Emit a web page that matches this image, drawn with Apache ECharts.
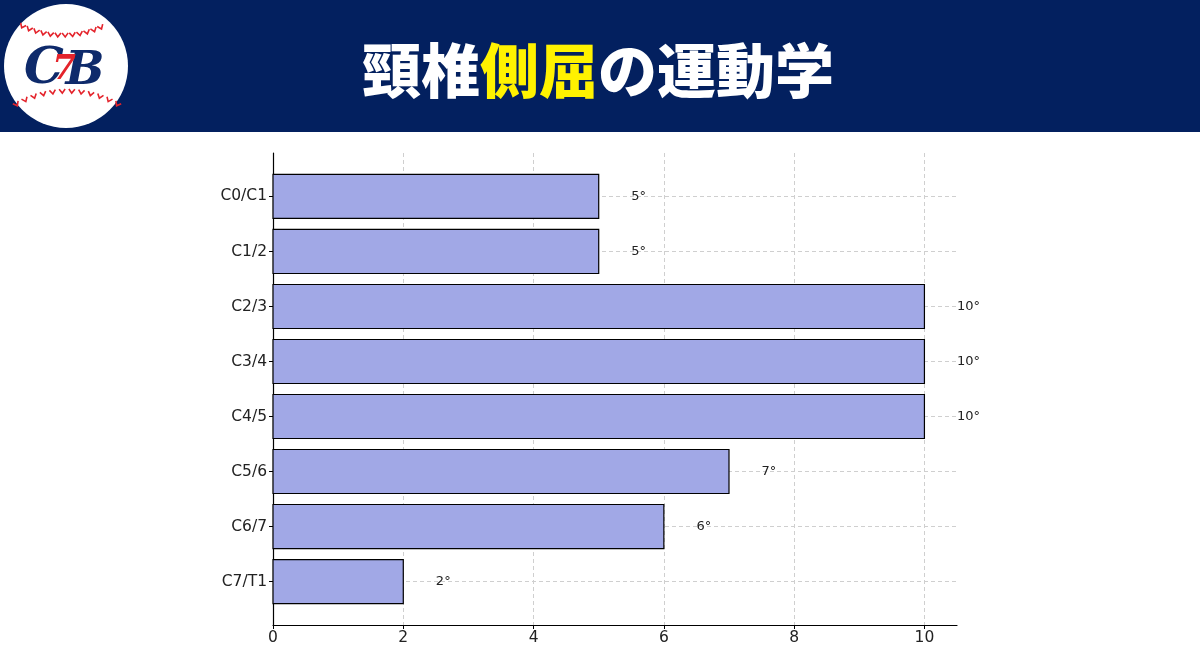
<!DOCTYPE html>
<html>
<head>
<meta charset="utf-8">
<script src="https://cdn.jsdelivr.net/npm/echarts@6/dist/echarts.min.js"></script>
<style>
html,body{margin:0;padding:0;background:#fff;}
#chart{width:1200px;height:649px;}
</style>
</head>
<body>
<div id="chart"></div>
<script>
// ---- data ----
const categories = ['C0/C1', 'C1/2', 'C2/3', 'C3/4', 'C4/5', 'C5/6', 'C6/7', 'C7/T1'];
const values = [5, 5, 10, 10, 10, 7, 6, 2];
const xTicks = [0, 2, 4, 6, 8, 10];
const titleParts = ['頸椎', '側屈', 'の運動学'];
const logoText = ['C', '7', 'B'];

const catIdx = categories.map((c, i) => i);
const seriesData = values.map((v, i) => [v, i]);

const chart = echarts.init(document.getElementById('chart'), null, {renderer: 'canvas'});

// logo stitches (decorative)
const stitchGraphics = [];
function stitchRow(cx, cy, r, a0, a1, n, dir) {
  for (let k = 0; k < n; k++) {
    const a = a0 + (a1 - a0) * k / (n - 1);
    const x = cx + r * Math.cos(a), y = cy + r * Math.sin(a);
    stitchGraphics.push({
      type: 'polyline', x: x, y: y, rotation: -a + (dir > 0 ? Math.PI / 2 : -Math.PI / 2),
      shape: {points: [[-3, -2], [0, 2], [3, -2]]},
      style: {stroke: '#e4232b', lineWidth: 1.6, fill: null}, z: 110
    });
  }
}
stitchRow(63, -60, 95, Math.PI * 0.64, Math.PI * 0.37, 12, 1);
stitchRow(67, 196, 105, -Math.PI * 0.66, -Math.PI * 0.34, 12, -1);

const option = {
  backgroundColor: '#ffffff',
  animation: false,
  grid: {left: 273, right: 243, top: 153, bottom: 24, containLabel: false},
  xAxis: {
    type: 'value', min: 0, max: 10.5,
    axisLine: {show: true, onZero: false, lineStyle: {color: '#000', width: 1.2}},
    axisTick: {show: true, length: 4, lineStyle: {color: '#000'}, customValues: xTicks},
    axisLabel: {customValues: xTicks, color: '#222', fontSize: 15.5, fontFamily: 'DejaVu Sans', margin: 5},
    splitLine: {show: true, lineStyle: {color: '#cfcfcf', type: [4, 3], width: 1}}
  },
  yAxis: {
    type: 'value', inverse: true, min: -0.79, max: 7.79,
    axisLine: {show: true, onZero: false, lineStyle: {color: '#000', width: 1.2}},
    axisTick: {show: true, length: 4, lineStyle: {color: '#000'}, customValues: catIdx},
    axisLabel: {
      customValues: catIdx, color: '#222', fontSize: 15.5, fontFamily: 'DejaVu Sans', margin: 6,
      formatter: (v) => categories[Math.round(v)]
    },
    splitLine: {show: true, lineStyle: {color: '#cfcfcf', type: [4, 3], width: 1}}
  },
  series: [{
    type: 'custom',
    data: seriesData,
    encode: {x: 0, y: 1},
    z: 5,
    renderItem: function (params, api) {
      const v = api.value(0), i = api.value(1);
      const p0 = api.coord([0, i - 0.4]);
      const p1 = api.coord([v, i + 0.4]);
      const lp = api.coord([v + 0.5, i]);
      return {
        type: 'group',
        children: [
          {type: 'rect', shape: {x: p0[0], y: p0[1], width: p1[0] - p0[0], height: p1[1] - p0[1]},
           style: {fill: '#a1a8e6', stroke: '#000', lineWidth: 1.2}},
          {type: 'text', style: {text: v + '°', x: lp[0], y: lp[1], align: 'left', verticalAlign: 'middle',
            fill: '#222', fontSize: 13, fontFamily: 'DejaVu Sans'}}
        ]
      };
    }
  }],
  graphic: [
    {type: 'rect', shape: {x: 0, y: 0, width: 1200, height: 132}, style: {fill: '#03205f'}, z: 100},
    {type: 'circle', shape: {cx: 66, cy: 66, r: 62}, style: {fill: '#ffffff'}, z: 105},
    {type: 'text', x: 44, y: 70, z: 115, style: {text: logoText[0], font: 'italic bold 50px "DejaVu Serif"', fill: '#0e2a6b', align: 'center', verticalAlign: 'middle'}},
    {type: 'text', x: 85, y: 72, z: 115, style: {text: logoText[2], font: 'italic bold 46px "DejaVu Serif"', fill: '#0e2a6b', align: 'center', verticalAlign: 'middle'}},
    {type: 'text', x: 64, y: 70, z: 116, style: {text: logoText[1], font: 'italic bold 34px "DejaVu Serif"', fill: '#e4232b', align: 'center', verticalAlign: 'middle'}},
    ...stitchGraphics,
    {type: 'text', x: 598, y: 71, z: 120, style: {
      text: '{w|' + titleParts[0] + '}{y|' + titleParts[1] + '}{w|' + titleParts[2] + '}',
      align: 'center', verticalAlign: 'middle',
      rich: {
        w: {fill: '#ffffff', fontSize: 59, fontWeight: 900, fontFamily: '"Noto Sans CJK JP"'},
        y: {fill: '#fff200', fontSize: 59, fontWeight: 900, fontFamily: '"Noto Sans CJK JP"'}
      }
    }}
  ]
};
chart.setOption(option);
</script>
</body>
</html>
